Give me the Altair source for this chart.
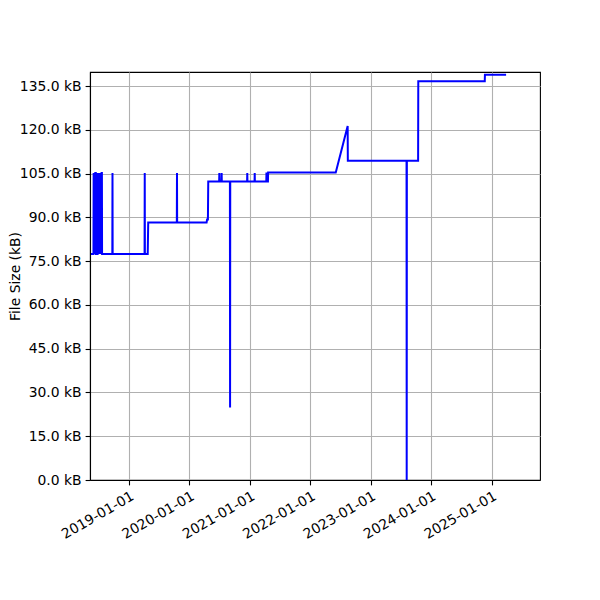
import altair as alt
import pandas as pd

dates = [
    "2018-05-16", "2018-05-31", "2018-06-01", "2018-06-04", "2018-06-06", "2018-06-09",
    "2018-06-11", "2018-06-14", "2018-06-15", "2018-06-25", "2018-06-26", "2018-06-29",
    "2018-07-02", "2018-07-05", "2018-07-08", "2018-07-11", "2018-07-14", "2018-07-17",
    "2018-07-19", "2018-07-21", "2018-07-22",
    "2018-09-22", "2018-09-23", "2018-09-24",
    "2019-04-05", "2019-04-06", "2019-04-07", "2019-04-24", "2019-04-27",
    "2019-10-17", "2019-10-18", "2019-10-19",
    "2020-04-14", "2020-04-17", "2020-04-22", "2020-04-24",
    "2020-06-29", "2020-06-30", "2020-07-01", "2020-07-13", "2020-07-14", "2020-07-15",
    "2020-09-02", "2020-09-03", "2020-09-04",
    "2020-12-15", "2020-12-16", "2020-12-17", "2021-01-29", "2021-01-30", "2021-01-31",
    "2021-04-10", "2021-04-11", "2021-04-12", "2021-04-20", "2021-04-21",
    "2022-06-04", "2022-08-15", "2022-08-16",
    "2023-08-06", "2023-08-07", "2023-08-08",
    "2023-10-15", "2023-10-16",
    "2024-11-21", "2024-11-22",
    "2025-03-30",
]
sizes_kb = [
    77.4, 77.4, 105.2, 77.4, 105.2, 77.4,
    105.2, 105.2, 77.4, 77.4, 105.2, 77.4,
    105.2, 77.4, 105.2, 77.4, 105.2, 77.4,
    105.2, 105.2, 77.4,
    77.4, 105.2, 77.4,
    77.4, 105.2, 77.4, 77.4, 88.2,
    88.2, 105.2, 88.2,
    88.2, 89.3, 89.3, 102.3,
    102.3, 105.2, 102.3, 102.3, 105.2, 102.3,
    102.3, 24.8, 102.3,
    102.3, 105.2, 102.3, 102.3, 105.2, 102.3,
    102.3, 105.4, 102.3, 102.3, 105.4,
    105.4, 121.3, 109.4,
    109.4, 0.0, 109.4,
    109.4, 136.6,
    136.6, 138.9,
    138.9,
]

year_ticks = [2019, 2020, 2021, 2022, 2023, 2024, 2025]
y_ticks = [0, 15, 30, 45, 60, 75, 90, 105, 120, 135]

df = pd.DataFrame({"date": [d + "T00:00:00" for d in dates], "size": sizes_kb})

FONT = "DejaVu Sans"
FS = 13.9

chart = (
    alt.Chart(df)
    .mark_line(color="#0000ff", strokeWidth=2, clip=True)
    .encode(
        x=alt.X(
            "date:T",
            scale=alt.Scale(
                domain=[
                    alt.DateTime(year=2018, month=5, date=10),
                    alt.DateTime(year=2025, month=10, date=21),
                ]
            ),
            axis=alt.Axis(
                values=[alt.DateTime(year=y, month=1, date=1) for y in year_ticks],
                format="%Y-%m-%d",
                labelAngle=-30,
                labelAlign="right",
                labelBaseline="top",
                title=None,
            ),
        ),
        y=alt.Y(
            "size:Q",
            scale=alt.Scale(domain=[0, 139.8], nice=False, zero=False),
            axis=alt.Axis(
                values=y_ticks,
                labelExpr="format(datum.value, '.1f') + ' kB'",
                title="File Size (kB)",
                titlePadding=-3,
            ),
        ),
        order="date:T",
    )
    .properties(
        width=450,
        height=408,
        autosize=alt.AutoSizeParams(type="none"),
        padding={"left": 82, "top": 64, "right": 52, "bottom": 112},
    )
    .configure_view(stroke="black", strokeWidth=1.1)
    .configure_axis(
        domainColor="black",
        domainWidth=1.1,
        tickColor="black",
        tickWidth=1.1,
        tickSize=4.9,
        labelPadding=4,
        gridColor="#b0b0b0",
        gridWidth=1.1,
        labelFont=FONT,
        labelFontSize=FS,
        labelColor="black",
        titleFont=FONT,
        titleFontSize=FS,
        titleFontWeight="normal",
        titleColor="black",
        labelOverlap=False,
    )
)

chart.save("out.html", embed_options={"renderer": "svg", "actions": False})
